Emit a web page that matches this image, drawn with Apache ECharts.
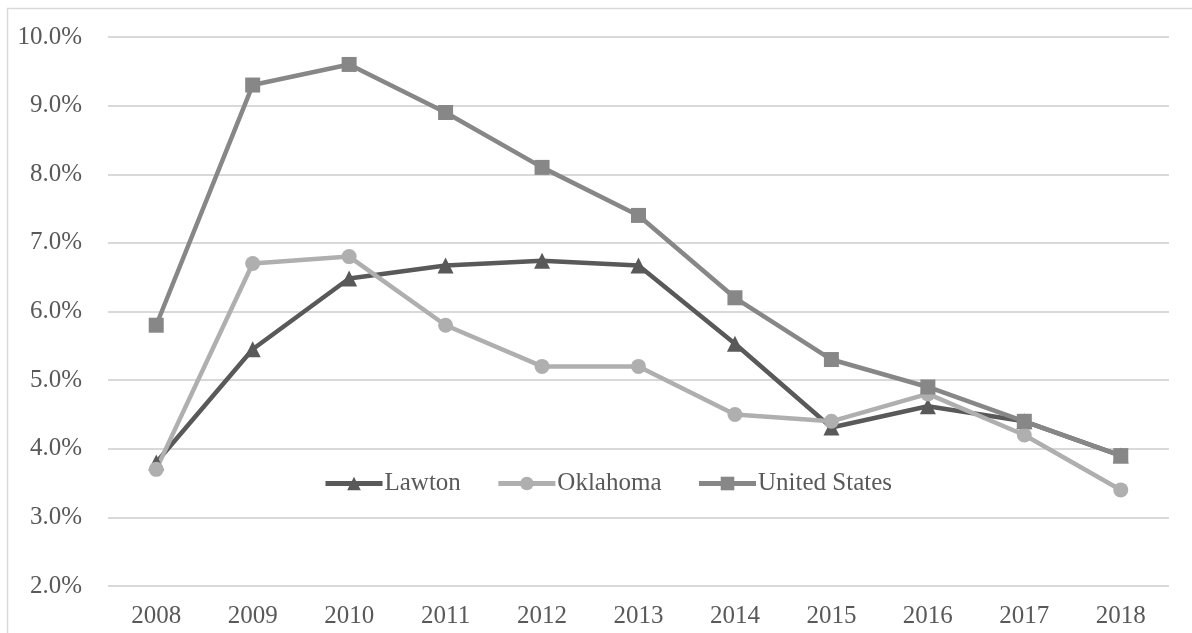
<!DOCTYPE html>
<html><head><meta charset="utf-8">
<script src="https://cdn.jsdelivr.net/npm/echarts@6/dist/echarts.min.js"></script>
<style>html,body{margin:0;padding:0;background:#fff}#c{width:1192px;height:633px}</style>
</head><body><div id="c"></div>
<script>
const years = ['2008','2009','2010','2011','2012','2013','2014','2015','2016','2017','2018'];
const lawton = [3.8, 5.45, 6.48, 6.67, 6.74, 6.67, 5.53, 4.31, 4.62, 4.4, 3.9];
const oklahoma = [3.7, 6.7, 6.8, 5.8, 5.2, 5.2, 4.5, 4.4, 4.8, 4.2, 3.4];
const unitedStates = [5.8, 9.3, 9.6, 8.9, 8.1, 7.4, 6.2, 5.3, 4.9, 4.4, 3.9];
const seriesNames = ['Lawton','Oklahoma','United States'];

const font = 'Liberation Serif';
const chart = echarts.init(document.getElementById('c'), null, {renderer:'canvas'});
function mk(name, data, color, symbol, size){
  return {name, type:'line', data, color, symbol, symbolSize:size,
    lineStyle:{width:4.5, color}, itemStyle:{color}, z: 3};
}
chart.setOption({
  animation:false,
  graphic:[{type:'rect', shape:{x:7.5,y:8.5,width:1200,height:640}, style:{fill:'none', stroke:'#d9d9d9', lineWidth:1.5}}],
  grid:{left:108, right:23, top:37, bottom:47},
  legend:{data:seriesNames, left:318, top:466, itemWidth:57, itemHeight:17, itemGap:35,
    lineStyle:{width:5},
    textStyle:{fontFamily:font, fontSize:25, color:'#595959', padding:[0,0,0,-3]}},
  xAxis:{type:'category', data:years, boundaryGap:true,
    axisLine:{show:false}, axisTick:{show:false},
    axisLabel:{fontFamily:font, fontSize:25, color:'#595959', margin:18}},
  yAxis:{type:'value', min:2, max:10, interval:1,
    axisLine:{show:false}, axisTick:{show:false},
    splitLine:{lineStyle:{color:'#d9d9d9', width:2}},
    axisLabel:{fontFamily:font, fontSize:25, color:'#595959', margin:26, formatter:v=>v.toFixed(1)+'%'}},
  series:[
    mk('Lawton', lawton, '#595959', 'triangle', 16),
    mk('Oklahoma', oklahoma, '#afafaf', 'circle', 15),
    mk('United States', unitedStates, '#878787', 'rect', 15)
  ]
});
</script></body></html>
